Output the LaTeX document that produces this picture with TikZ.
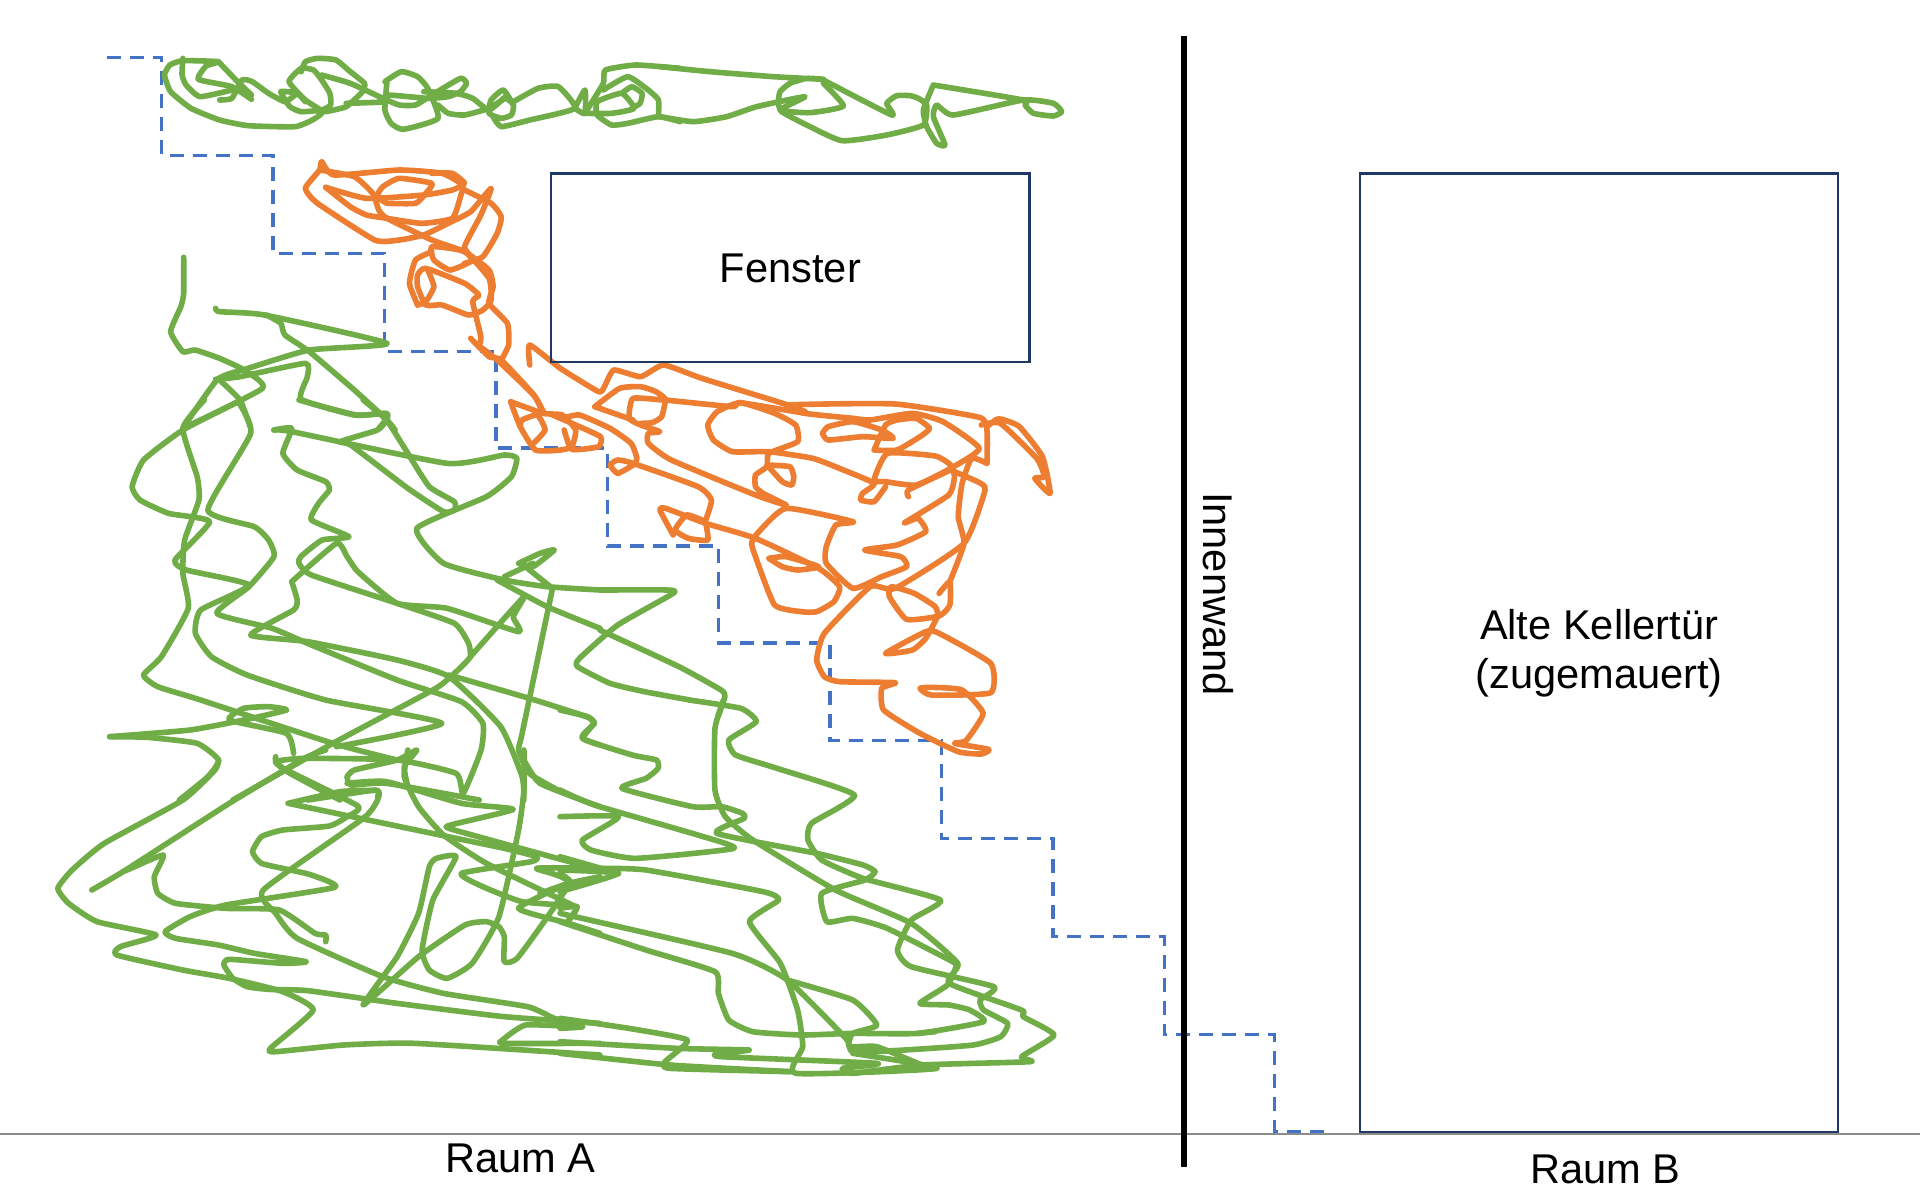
\documentclass[tikz,border=0pt]{standalone}
\usepackage{fontspec}
\setmainfont{Liberation Sans}
\definecolor{grn}{HTML}{70AD47}
\definecolor{org}{HTML}{ED7D31}
\definecolor{blu}{HTML}{4472C4}
\definecolor{nav}{HTML}{1F3864}
\tikzset{
  gline/.style={draw=grn,line width=2.8pt,line join=round,line cap=round},
  oline/.style={draw=org,line width=2.8pt,line join=round,line cap=round},
  zone/.style n args={3}{shift={(#1,#2)},x=#3pt,y=-0.16667pt},
  box/.style={draw=nav,line width=1.3pt},
  lab/.style={font=\fontsize{20.8}{24.5}\selectfont,align=center,inner sep=0pt},
}
\newcommand\gr[1]{\draw[gline] plot[smooth,tension=.3] coordinates {#1};}
\newcommand\og[1]{\draw[oline] plot[smooth,tension=.3] coordinates {#1};}
\begin{document}
\begin{tikzpicture}[x=0.5pt,y=-0.5pt]
\useasboundingbox (0,0) rectangle (1920,1199);
\fill[white] (0,0) rectangle (1920,1199);
\begin{scope}[x=0.6122pt,y=-0.6122pt]
\draw[gray!90,line width=.7pt] (0,926) -- (1568,926);
\draw[blu,line width=1.7pt,dash pattern=on 7pt off 4.5pt] (87,47)--(132,47)--(132,127)--(223,127)--(223,207)--(314,207)--(314,287)--(405,287)--(405,366)--(496,366)--(496,446)--(587,446)--(587,525)--(678,525)--(678,605)--(769,605)--(769,685)--(860,685)--(860,765)--(951,765)--(951,845)--(1041,845)--(1041,924)--(1087,924);
\end{scope}
% ---- zone 1
\begin{scope}[zone={40}{30}{0.2041}]
\gr{(518,208) (470,170) (388,148) (407,108) (437,95) (350,92) (318,105) (305,135) (320,185) (370,235) (440,270) (510,287) (625,290) (670,268) (692,245) (650,210) (610,155) (640,115) (670,120) (690,150) (710,190) (712,225) (690,240) (640,245) (612,230) (590,185) (630,190) (650,215)}
\gr{(440,210) (470,205) (495,150) (520,155) (560,190) (600,215) (625,195)}
\gr{(350,85) (348,135) (358,165) (392,200) (470,180)}
\gr{(437,95) (480,150) (518,195)}
\gr{(640,125) (650,95) (680,85) (725,90) (760,125) (795,160) (790,185) (750,230) (700,245)}
\gr{(690,135) (760,160) (840,205) (880,225) (920,225) (960,195) (1030,145) (1045,160) (1030,185) (1000,200) (950,205) (850,195) (850,215) (750,220)}
\gr{(845,155) (885,125) (925,140) (950,175) (975,265) (890,298) (860,280) (845,240) (850,155)}
\gr{(940,185) (1020,190) (1060,205) (1100,240) (1140,200)}
\gr{(975,225) (1000,250) (1040,255) (1100,235) (1140,205) (1160,225) (1155,255) (1130,265) (1100,250) (1105,210) (1135,180) (1160,225)}
\gr{(1110,260) (1130,290) (1200,270) (1310,235) (1270,170) (1220,175) (1160,215)}
\gr{(1310,235) (1335,180) (1335,250) (1310,235)}
\gr{(1340,240) (1380,160) (1385,120) (1460,105) (1568,115)}
\gr{(1330,250) (1400,250) (1455,235) (1425,190) (1365,215) (1365,255) (1400,285) (1440,280) (1515,260) (1568,275)}
\gr{(1380,180) (1440,140) (1490,180) (1515,210) (1515,260)}
\gr{(1425,190) (1450,170) (1475,190) (1470,220) (1450,235)}
% orange top
\og{(700,472) (760,530) (800,555) (850,565) (935,580) (1010,565) (1030,500) (1035,465) (985,430) (880,420) (720,435) (690,395) (685,420) (650,475) (680,520) (820,630) (880,630) (940,615) (1000,580) (1055,545) (1105,475) (1080,555) (1040,650) (1060,690) (1005,720) (965,690) (960,650) (1040,665) (1100,745) (1105,810) (1085,840) (1050,855) (985,825) (945,825) (925,770) (925,735) (945,715) (1040,760) (1075,795) (1060,815) (1080,920) (1075,950)}
\og{(700,472) (800,505) (940,495) (1010,480) (1040,460) (1010,430) (960,430)}
\og{(685,420) (770,440) (815,490) (830,540) (850,565) (960,630) (1040,665) (1100,720) (1110,770) (1100,820) (1145,880) (1148,945) (1130,990)}
\og{(850,520) (920,520) (945,490) (960,460) (880,445) (840,470) (825,500) (850,520)}
\og{(1040,480) (1105,520) (1130,560) (1120,610) (1085,680) (1040,700)}
\og{(925,825) (905,760) (920,690) (960,665)}
\og{(925,825) (945,815) (965,770) (950,720)}
\og{(1055,925) (1100,980) (1130,990) (1210,1095) (1235,1150)}
% green start of lower scribble
\gr{(352,682) (352,790) (345,830) (320,905) (350,965) (380,960) (440,985) (500,1020) (545,1075) (350,1195)}
\gr{(430,835) (440,845) (550,855) (850,940) (660,960) (510,1015) (435,1048) (350,1195)}
\gr{(430,1048) (490,1040) (650,1000) (655,1040) (640,1108) (770,1155) (848,1150) (850,1165) (830,1195)}
\gr{(440,1050) (490,1110) (515,1190)}
\gr{(555,855) (590,880) (600,915) (660,965) (770,1080) (850,1170) (870,1200)}
\end{scope}
% ---- zone 2
\begin{scope}[zone={660}{30}{0.16667}]
\gr{(0,110) (150,125) (340,140) (490,148) (440,145) (390,160) (360,185) (355,220) (365,245) (430,280) (545,332) (680,315) (790,285) (800,225) (775,205) (750,197) (710,197) (680,220) (695,255) (490,150)}
\gr{(0,260) (100,275) (200,260) (290,230) (435,200) (360,240) (450,248) (550,228) (490,160)}
\gr{(820,165) (790,240) (800,290) (830,340) (855,345) (820,260) (830,225) (880,255) (1090,210) (1180,220) (1205,245) (1180,258) (1120,250) (1095,225) (1090,210) (820,165)}
\end{scope}
% ---- zone 3 orange and connecting green
\begin{scope}[zone={480}{330}{0.1913}]
\gr{(313,780) (490,780) (505,790) (360,885) (260,985) (255,1010) (340,1060) (430,1085) (549,1110)}
\gr{(313,900) (520,1010) (630,1080) (640,1100) (622,1160)}
\og{(0,50) (45,90) (140,195) (165,250)}
\og{(80,215) (165,250) (215,255) (250,300) (240,350) (210,360) (145,360) (105,290) (80,215)}
\og{(105,290) (110,270) (150,255) (170,300) (140,340)}
\og{(190,255) (250,285) (315,320) (310,350) (240,358) (220,300)}
\og{(215,265) (260,255) (340,295) (395,340) (410,385) (400,405) (360,430) (340,405) (360,390) (400,400) (570,470) (605,510) (590,570)}
\og{(505,615) (470,540) (485,535) (590,580) (720,625) (885,715) (940,770) (925,815) (880,845) (840,845) (770,825) (720,680) (710,640) (725,610) (800,535) (975,575) (930,585) (905,650) (905,700) (975,775) (1050,740) (1115,710) (1100,680) (1005,660) (1090,645) (1165,605) (1145,565) (1110,578) (1225,495) (1240,440) (1230,405) (1190,378) (1065,370) (1030,450) (1060,455) (1140,465) (1230,415) (1305,355) (1210,275) (1130,250) (1020,270) (975,265) (850,250) (805,225) (1085,222) (1305,262) (1325,300) (1325,400)}
\og{(590,580) (595,630) (545,625) (510,600) (540,555) (580,570)}
\og{(755,685) (800,680) (885,710) (830,720) (790,710) (755,685)}
\og{(130,105) (130,45) (210,115) (310,185) (325,170) (350,120) (420,140) (480,105) (580,145) (805,225) (850,245)}
\og{(300,230) (365,175) (420,170) (460,185) (485,210) (400,205) (390,265) (420,285) (470,305) (440,310) (440,340) (500,390) (720,495) (800,525) (740,490) (720,470) (720,435) (750,410) (755,370) (830,335) (825,285) (770,250) (680,218) (620,245) (595,285) (610,330) (660,365) (755,365) (870,385) (950,420) (1030,460) (1000,490) (995,510) (1030,515) (1060,470)}
\og{(300,230) (400,270)}
\og{(485,210) (475,260) (450,278) (420,280)}
\og{(485,210) (660,230) (680,218) (850,250)}
\og{(895,310) (910,290) (975,275) (1050,300) (1080,325) (1000,320) (910,330) (895,310)}
\og{(1030,360) (1060,285) (1090,270) (1140,265) (1175,295) (1150,320) (1090,360) (1030,360)}
\og{(750,405) (810,410) (820,440) (815,465) (790,455) (750,405)}
\og{(1120,500) (1120,480) (1230,420)}
\og{(1230,420) (1300,455) (1320,480) (1265,640) (1085,775) (1020,770) (900,910) (880,990) (900,1040) (940,1055) (1085,1058) (1050,1075) (1055,1140) (1150,1210) (1250,1265) (1310,1272) (1330,1258) (1240,1240) (1270,1232) (1315,1150) (1260,1080) (1180,1072) (1150,1075) (1180,1095) (1335,1088) (1335,1000) (1200,910) (1165,905) (1060,970) (1130,960) (1165,925) (1195,860) (1190,830) (1135,790) (1075,770) (1070,800) (1115,868) (1200,858) (1228,825) (1228,755) (1200,790)}
\og{(1228,755) (1265,640) (1250,560) (1260,460) (1285,385) (1325,400)}
\og{(1325,290) (1350,268) (1365,268) (1410,290) (1470,380) (1490,490) (1450,445) (1475,440) (1455,385) (1360,280) (1310,285)}
\end{scope}
% ---- zone 4 green
\begin{scope}[zone={40}{400}{0.17857}]
\gr{(555,5) (590,100) (470,330) (600,380) (640,420) (655,470) (585,560) (495,640) (650,685) (760,735) (1000,840) (1180,905) (1240,970) (1235,1050) (1185,1180) (1165,1120) (1000,1080) (740,1075) (660,1085) (700,1120) (840,1200)}
\gr{(460,0) (400,85) (440,230) (445,300) (405,420) (400,520) (415,625) (340,770) (290,825) (330,860) (450,900) (820,1030) (1000,1080)}
\gr{(555,5) (400,90) (290,180) (258,260) (280,300) (360,340) (475,365) (378,480) (410,510) (585,555) (450,630) (435,700) (480,770) (580,825) (800,900) (1125,970) (830,1040)}
\gr{(725,0) (885,45) (965,40) (970,60) (945,90) (840,125) (870,135) (1030,265) (1130,335) (1160,330) (1160,305) (1090,260) (1030,160) (970,60) (905,0)}
\gr{(655,90) (705,85) (680,160) (720,210) (800,245) (810,270) (780,310) (760,360) (865,410) (790,420) (730,470) (725,490) (760,525) (1000,610) (1160,670) (1200,730) (1205,770) (1180,800) (1145,835) (1100,870) (820,1030) (540,1200)}
\gr{(655,90) (705,95) (1140,190) (1300,165) (1335,175) (1320,230) (1250,290) (1055,385) (1130,490) (1300,540) (1420,560) (1568,570)}
\gr{(705,545) (720,600) (710,630) (590,705) (750,725) (1000,780) (1145,830) (1290,980) (1350,1130) (1355,1200)}
\gr{(705,545) (830,430) (860,470) (890,515) (1000,610) (1140,625) (1340,695) (1325,650) (1355,590) (1205,770)}
\gr{(1145,825) (1370,895) (1530,950) (1550,970) (1520,1015) (1568,1035)}
\gr{(1280,540) (1420,620) (1568,685)}
\gr{(1340,490) (1400,460) (1440,450) (1380,500) (1340,490)}
\gr{(1300,530) (1380,490)}
\gr{(1365,505) (1435,565)}
\gr{(1435,565) (1350,1000) (1340,1050) (1370,1120) (1450,1170)}
\gr{(195,1010) (420,990) (570,960) (690,930) (640,920) (570,925) (530,960) (690,1000) (710,1060)}
\gr{(195,1010) (300,1012) (440,1030) (500,1080) (470,1130) (390,1200)}
\gr{(860,1130) (880,1110) (1000,1080) (1055,1050) (1020,1100) (1030,1160)}
\gr{(860,1130) (870,1155) (970,1150) (1230,1200)}
\gr{(750,1200) (940,1170) (945,1190)}
\end{scope}
% ---- zone 5 green
\begin{scope}[zone={40}{750}{0.17857}]
\gr{(500,30) (490,60) (400,150) (180,280) (90,360) (50,415) (80,460) (160,515) (325,555) (225,590) (215,615) (400,660) (530,685) (680,725) (765,780) (645,895) (660,905) (850,885) (1050,880) (1568,915)}
\gr{(145,420) (240,360) (530,160) (740,25) (800,0)}
\gr{(240,362) (345,315) (320,380) (330,430) (380,460) (520,475) (670,480) (770,550) (800,555) (800,575)}
\gr{(660,20) (660,35) (690,60) (890,168) (860,200) (810,228) (680,240) (620,260) (595,305) (620,340) (710,362) (760,375) (825,412) (520,465) (420,500) (350,545) (380,565) (500,585) (600,610) (745,635) (680,640) (530,628) (515,645) (540,685) (580,710) (640,718) (750,722) (1000,760) (1300,800) (1568,820)}
\gr{(695,160) (840,125) (945,122) (945,150) (905,205) (625,420) (660,490) (720,565) (960,680) (1130,730) (1365,770) (1440,805) (1520,830) (1360,825) (1295,870) (1300,880) (1568,880)}
\gr{(695,160) (1120,255) (1300,295) (1390,320) (1375,335) (1180,370) (1240,410) (1350,455) (1500,470) (1480,510)}
\gr{(1030,0) (1020,80) (1060,170) (1130,255) (1250,340) (1500,470)}
\gr{(860,100) (970,95) (1180,160) (1325,178) (1150,225) (1160,240) (1568,360)}
\gr{(1355,0) (1355,120) (1340,240) (1285,500) (1210,640) (1140,685) (1090,660) (1070,600) (1100,450) (1165,320) (1110,325) (1090,350) (1060,490) (1000,620) (905,765) (1060,620) (1190,525) (1250,515) (1285,530) (1300,560) (1300,635) (1340,620) (1480,400) (1390,355) (1568,355)}
\gr{(1480,400) (1340,475) (1480,520) (1568,550)}
\gr{(1568,380) (1480,400) (1400,430)}
\gr{(1350,20) (1400,100) (1568,170)}
\end{scope}
% ---- zone 6 green
\begin{scope}[zone={560}{700}{0.17218}]
\gr{(0,30) (80,50) (100,70) (65,115) (210,165) (280,180) (285,205) (250,235) (180,265) (385,320) (470,320) (530,340) (535,355) (455,400) (745,460) (880,495) (915,515) (885,540) (760,580) (775,665) (850,655) (950,685) (1140,785) (1150,800) (1125,855) (1045,910) (1130,915) (1190,930) (1230,965) (1040,1000) (850,1000) (700,1005) (560,995) (490,960) (460,880) (450,815) (250,750) (0,665)}
\gr{(375,0) (525,25) (570,65) (490,120) (510,165) (630,205) (855,285) (730,370) (720,420) (760,480) (880,535) (1105,600) (1020,660) (980,750) (1020,800) (1260,860) (1220,900) (1230,930) (1300,970) (1280,1010) (1200,1035) (1000,1050) (850,1055) (830,1015) (660,840) (500,760) (0,640)}
\gr{(475,0) (450,85) (450,270) (480,350) (560,420) (800,570) (1020,670) (1155,790) (1130,850) (1340,930) (1345,950) (1435,1005) (1340,1070) (1365,1085) (1050,1095) (850,1120) (820,1105) (920,1090) (470,1070) (460,1060) (550,1050) (340,1045) (0,1025)}
\gr{(0,270) (100,315) (400,405) (505,445) (220,475) (90,450) (65,420) (170,350) (0,350)}
\gr{(0,510) (170,520) (0,575)}
\gr{(0,470) (170,520)}
\gr{(110,505) (250,510) (590,575) (635,600) (550,665) (640,790) (690,930) (705,1040) (685,1120) (1095,1105) (850,1060)}
\gr{(660,840) (850,900) (920,975) (850,1000) (840,1040) (920,1040) (1050,1095)}
\gr{(0,955) (200,985) (370,1020) (305,1085) (320,1105) (670,1115)}
\gr{(0,1060) (320,1095) (670,1115)}
\gr{(0,625) (50,620) (20,670)}
\gr{(0,520) (30,545) (0,590)}
\gr{(1040,1000) (1090,995)}
\gr{(0,960) (65,980) (0,985)}
\end{scope}
\begin{scope}[x=0.6122pt,y=-0.6122pt]
\node[box,minimum width=239.4pt,minimum height=94.3pt,inner sep=0pt] (fensterbox) at (645.5,218.5) {};
\node[lab] (fenster) at (645.5,219.5) {Fenster};
\node[box,minimum width=239pt,minimum height=479.4pt,inner sep=0pt] (tuerbox) at (1306,533) {};
\node[lab] (tuer) at (1306,533.5) {Alte Kellertür\\(zugemauert)};
\draw[black,line width=2.6pt] (967,29) -- (967,953);
\node[lab,rotate=-90] (wand) at (995,485) {Innenwand};
\node[lab] (ra) at (425,946) {Raum A};
\node[lab] (rb) at (1311,955) {Raum B};
\end{scope}
\end{tikzpicture}
\end{document}
